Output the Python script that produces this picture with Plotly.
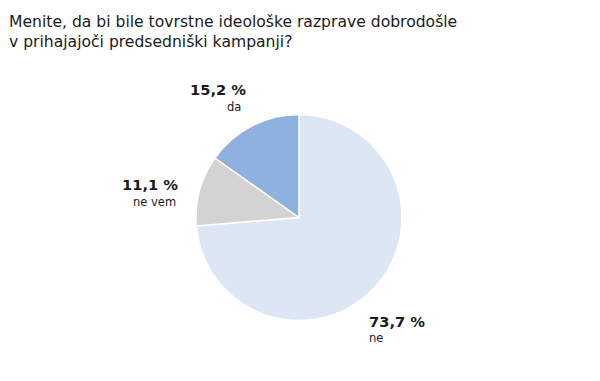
import plotly.graph_objects as go

title_lines = ["Menite, da bi bile tovrstne ideološke razprave dobrodošle",
               "v prihajajoči predsedniški kampanji?"]
labels = ["da", "ne vem", "ne"]
values = [15.2, 11.1, 73.7]
value_text = ["15,2 %", "11,1 %", "73,7 %"]
colors = ["#8FB1E0", "#D3D3D3", "#DCE6F5"]

W, H = 600, 381
OFF = 8  # page body margin offset
cx, cy, r = 299 - OFF, 217.5 - OFF, 103

# reference draws slices counterclockwise from 12 o'clock: equivalently clockwise in reversed order
fig = go.Figure(go.Pie(
    labels=labels[::-1], values=values[::-1], sort=False, direction="clockwise",
    rotation=0, textinfo="none", hoverinfo="label+percent",
    marker=dict(colors=colors[::-1], line=dict(color="white", width=1.5)),
    domain=dict(x=[(cx - r) / W, (cx + r) / W], y=[(H - cy - r) / H, (H - cy + r) / H]),
    showlegend=False,
))

def px(x, y):
    return (x - OFF) / W, 1 - (y - OFF) / H

# title lines
for i, (line, yc) in enumerate(zip(title_lines, [22.0, 42.3])):
    x, y = px(8, yc)
    fig.add_annotation(x=x, y=y, xref="paper", yref="paper", xanchor="left", yanchor="middle",
                       showarrow=False, text=line, xshift=-1,
                       font=dict(family="DejaVu Sans", size=15.6, color="#1a1a1a"))

# value / label annotations: (x, y_value_center, y_label_center, anchor)
ann_pos = [(248, 89.3, 107.0, "right"), (180, 184.5, 202.0, "right"), (367, 321.0, 338.0, "left")]
label_dx = [-5, -2, 0]
for (x0, yv, yl, al), vt, lab, dx in zip(ann_pos, value_text, labels, label_dx):
    x, y = px(x0, yv)
    fig.add_annotation(x=x, y=y, xref="paper", yref="paper", xanchor=al, yanchor="middle",
                       showarrow=False, text=f"<b>{vt}</b>",
                       font=dict(family="DejaVu Sans", size=14.7, color="#1a1a1a"))
    x, y = px(x0 + dx, yl)
    fig.add_annotation(x=x, y=y, xref="paper", yref="paper", xanchor=al, yanchor="middle",
                       showarrow=False, text=lab,
                       font=dict(family="DejaVu Sans", size=11.5, color="#1a1a1a"))

fig.update_layout(
    width=W, height=H, margin=dict(l=0, r=0, t=0, b=0),
    paper_bgcolor="white", plot_bgcolor="white",
)

fig.write_html("out.html")
